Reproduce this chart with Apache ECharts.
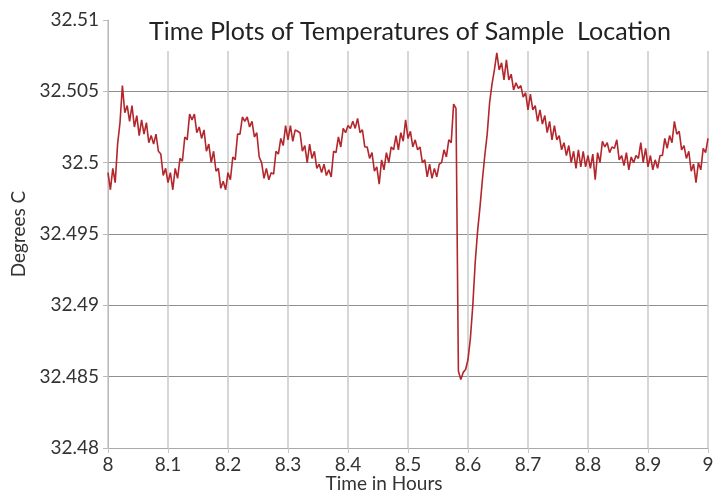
<!DOCTYPE html>
<html>
<head>
<meta charset="utf-8">
<script src="https://cdn.jsdelivr.net/npm/echarts@6/dist/echarts.min.js"></script>
<style>
  html, body { margin: 0; padding: 0; background: #fff; }
  #chart { width: 714px; height: 493px; }
</style>
</head>
<body>
<div id="chart"></div>
<script>
// sampling: one reading every 0.004 h starting at 8 h
var startHour = 8;
var stepHour = 0.004;

// temperatures (deg C) in five stretches
var temps8_0 = [32.4993, 32.4981, 32.4996, 32.4986, 32.5013, 32.5028, 32.5054, 32.5035, 32.5040, 32.5029,
  32.5040, 32.5025, 32.5033, 32.5019, 32.5030, 32.5020, 32.5028, 32.5014, 32.5019, 32.5013,
  32.5020, 32.5008, 32.5006, 32.4991, 32.4996, 32.4986, 32.4993, 32.4981, 32.4996, 32.4989,
  32.5003, 32.5001, 32.5018, 32.5016, 32.5034, 32.5030, 32.5034, 32.5021, 32.5025, 32.5017,
  32.5023, 32.5008, 32.5013, 32.5000, 32.5008, 32.4994, 32.4996, 32.4982, 32.4987, 32.4981];
var temps8_2 = [32.4993, 32.4988, 32.5004, 32.5002, 32.5020, 32.5020, 32.5032, 32.5029, 32.5032, 32.5025,
  32.5029, 32.5018, 32.5021, 32.5004, 32.5000, 32.4989, 32.4996, 32.4988, 32.4993, 32.4992,
  32.5008, 32.5006, 32.5017, 32.5012, 32.5026, 32.5016, 32.5026, 32.5015, 32.5023, 32.5022,
  32.5021, 32.5008, 32.5012, 32.5000, 32.5013, 32.5003, 32.5008, 32.4996, 32.4999, 32.4993,
  32.4999, 32.4991, 32.4995, 32.4990, 32.5008, 32.5007, 32.5018, 32.5011, 32.5024, 32.5021];
var temps8_4 = [32.5026, 32.5024, 32.5029, 32.5024, 32.5031, 32.5021, 32.5023, 32.5011, 32.5011, 32.5003,
  32.5007, 32.4994, 32.4997, 32.4985, 32.5002, 32.4995, 32.5007, 32.5000, 32.5011, 32.5009,
  32.5019, 32.5009, 32.5021, 32.5015, 32.5030, 32.5017, 32.5022, 32.5011, 32.5016, 32.5009,
  32.5011, 32.5000, 32.5002, 32.4990, 32.4999, 32.4989, 32.4996, 32.4990, 32.4999, 32.5000,
  32.5009, 32.5004, 32.5016, 32.5014, 32.5041, 32.5038, 32.4854, 32.4848, 32.4853, 32.4855];
var temps8_6 = [32.4862, 32.4877, 32.4900, 32.4930, 32.4952, 32.4969, 32.4988, 32.5005, 32.5020, 32.5042,
  32.5055, 32.5065, 32.5077, 32.5065, 32.5070, 32.5058, 32.5072, 32.5058, 32.5062, 32.5051,
  32.5056, 32.5052, 32.5054, 32.5046, 32.5049, 32.5037, 32.5048, 32.5037, 32.5040, 32.5029,
  32.5037, 32.5027, 32.5033, 32.5021, 32.5029, 32.5016, 32.5026, 32.5016, 32.5019, 32.5009,
  32.5014, 32.5005, 32.5012, 32.5000, 32.5008, 32.4996, 32.5009, 32.4997, 32.5008, 32.4997];
var temps8_8 = [32.5005, 32.4996, 32.5006, 32.4988, 32.5007, 32.5000, 32.5015, 32.5011, 32.5014, 32.5007,
  32.5011, 32.5010, 32.5016, 32.5002, 32.5005, 32.4998, 32.5007, 32.4995, 32.5004, 32.5000,
  32.5005, 32.5003, 32.5014, 32.5000, 32.5010, 32.4997, 32.5005, 32.4995, 32.5002, 32.4996,
  32.5005, 32.5005, 32.5017, 32.5010, 32.5019, 32.5014, 32.5029, 32.5020, 32.5022, 32.5009,
  32.5012, 32.5003, 32.5008, 32.4994, 32.4999, 32.4986, 32.5000, 32.4995, 32.5010, 32.5007,
  32.5017];

var hourTicks = [8, 8.1, 8.2, 8.3, 8.4, 8.5, 8.6, 8.7, 8.8, 8.9, 9];
var tempTicks = [32.48, 32.485, 32.49, 32.495, 32.5, 32.505, 32.51];

var temps = temps8_0.concat(temps8_2, temps8_4, temps8_6, temps8_8);
var seriesData = [];
for (var i = 0; i < temps.length; i++) {
  seriesData.push([+(startHour + i * stepHour).toFixed(3), temps[i]]);
}

var font = 'Lato, "Open Sans", sans-serif';
var myChart = echarts.init(document.getElementById('chart'), null, { renderer: 'canvas' });

var option = {
  animation: false,
  backgroundColor: '#fff',
  title: {
    text: 'Time Plots of Temperatures of Sample  Location',
    left: 405,
    textAlign: 'center',
    top: 14,
    textStyle: { fontFamily: font, fontSize: 25, fontWeight: 'normal', color: '#222' }
  },
  grid: { left: 108, right: 6, top: 20, bottom: 45, outerBoundsMode: 'none' },
  // white band under the title hides the top of the grid like the original
  graphic: [{
    type: 'rect',
    z: 1,
    shape: { x: 109, y: 0, width: 610, height: 51 },
    style: { fill: '#fff' },
    silent: true
  }],
  xAxis: {
    type: 'value',
    min: hourTicks[0],
    max: hourTicks[hourTicks.length - 1],
    interval: 0.1,
    name: 'Time in Hours',
    nameLocation: 'middle',
    nameGap: 26,
    nameMoveOverlap: false,
    nameTextStyle: { fontFamily: font, fontSize: 19, color: '#333', padding: [0, 48, 0, 0] },
    axisLine: { lineStyle: { color: '#aaa', width: 1 } },
    axisTick: { show: true, length: 5, lineStyle: { color: '#c8c8c8' } },
    axisLabel: {
      fontFamily: font, fontSize: 19, color: '#333', margin: 7,
      formatter: function (v) { return String(+v.toFixed(1)); }
    },
    splitLine: { show: true, lineStyle: { color: '#c8c8c8', width: 1.5 } }
  },
  yAxis: {
    type: 'value',
    min: tempTicks[0],
    max: tempTicks[tempTicks.length - 1],
    interval: 0.005,
    name: 'Degrees C',
    nameLocation: 'middle',
    nameGap: 80,
    nameMoveOverlap: false,
    nameTextStyle: { fontFamily: font, fontSize: 19, color: '#333' },
    axisLine: { show: true, lineStyle: { color: '#bbb', width: 1 } },
    axisTick: { show: true, length: 5, lineStyle: { color: '#bbb' } },
    axisLabel: {
      fontFamily: font, fontSize: 19, color: '#333', margin: 9,
      formatter: function (v) { return String(+v.toFixed(3)); }
    },
    splitLine: { show: true, lineStyle: { color: '#8f8f8f', width: 1 } }
  },
  series: [{
    name: 'Temperature',
    type: 'line',
    showSymbol: false,
    symbol: 'none',
    z: 2,
    lineStyle: { color: '#b3262b', width: 1.6 },
    data: seriesData
  }]
};

myChart.setOption(option);
</script>
</body>
</html>
